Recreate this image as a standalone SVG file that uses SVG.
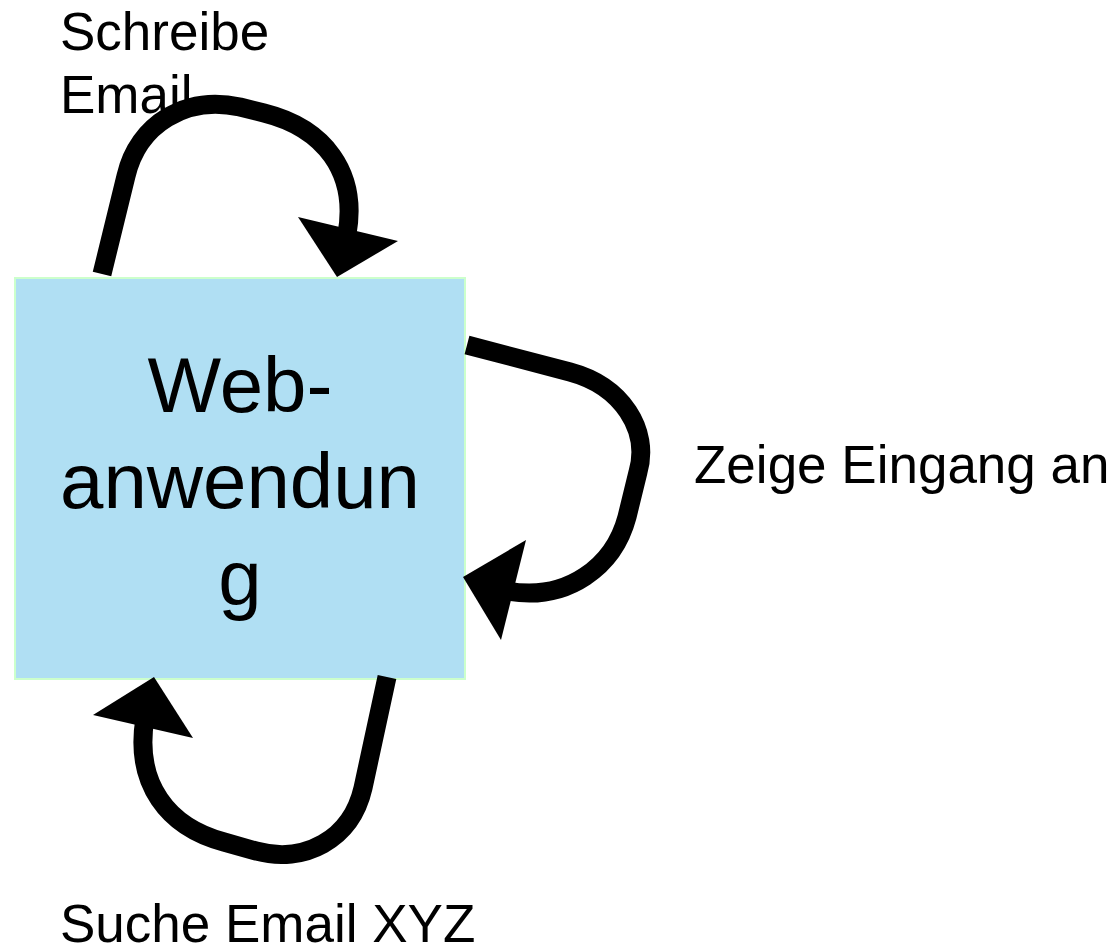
<svg xmlns="http://www.w3.org/2000/svg" width="1115" height="949" viewBox="0 0 1115 949">
<style>
.node{fill:#b0dff3;stroke:#ccffcc;stroke-width:2}
.edge{fill:none;stroke:#000;stroke-width:19;stroke-linejoin:round}
.head{fill:#000;stroke:none}
.lbl{font-family:"Liberation Sans",Arial,sans-serif;font-size:53px;fill:#000}
.big{font-family:"Liberation Sans",Arial,sans-serif;font-size:78px;fill:#000;text-anchor:middle}
</style>
<rect width="1115" height="949" fill="#fff"/>
<g id="web">
<rect class="node" x="15" y="278" width="450" height="401"/>
<text class="big" x="240" y="412">Web-</text>
<text class="big" x="240" y="508">anwendun</text>
<text class="big" x="240" y="605">g</text>
</g>
<g id="connectors">
<path class="edge" d="M 102 274 L 126 176 C 138 124 186 95 240 107 L 264 113 C 324 128 358 172 347 234"/>
<polygon class="head" points="337,277 298,217 398,241"/>
<path class="edge" d="M 467 345 L 570 372 C 622 386 650 430 638 472 L 627 517 C 614 566 568 602 507 591"/>
<polygon class="head" points="463,577 526,540 501,640"/>
<path class="edge" d="M 387 677 L 363 788 C 351 840 304 864 256 851 L 224 842 C 168 827 134 784 145 718"/>
<polygon class="head" points="154,677 93,715 193,738"/>
</g>
<g id="labels">
<text class="lbl" x="60" y="50">Schreibe</text>
<text class="lbl" x="60" y="113">Email</text>
<text class="lbl" x="694" y="483">Zeige Eingang an</text>
<text class="lbl" x="60" y="942">Suche Email XYZ</text>
</g>
</svg>
